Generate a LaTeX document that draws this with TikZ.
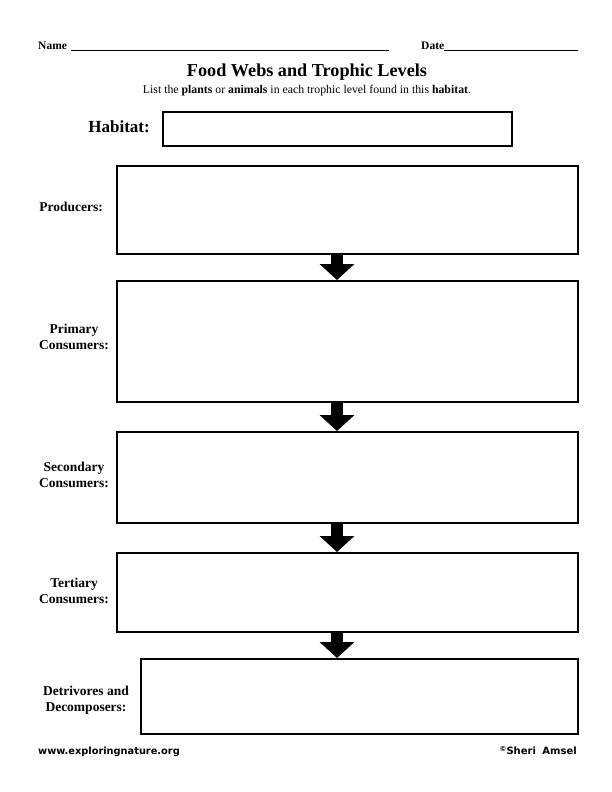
\documentclass[tikz,border=0pt]{standalone}
\usepackage{fontspec}
\setmainfont{Liberation Serif}
\newfontfamily\footfont{DejaVu Sans}
\usetikzlibrary{arrows.meta,calc}
\begin{document}
\begin{tikzpicture}[x=1pt,y=-1pt,
  box/.style={draw,line width=2pt,inner sep=0pt,anchor=north west},
  lbl/.style={font=\bfseries\fontsize{13.5}{16.5}\selectfont,align=center},
  blockarr/.style={line width=12pt,-{Triangle[width=34pt,length=16pt]}},
  fill line/.style={line width=0.9pt}]
\useasboundingbox (0,0) rectangle (612,792);
% header
\node[anchor=base west,font=\bfseries\fontsize{11.5}{13}\selectfont,inner sep=0pt] (name) at (38,49) {Name};
\coordinate (nameend) at (389,50);
\draw[fill line] (name.base east) ++(4,1) -- (nameend);
\node[anchor=base west,font=\bfseries\fontsize{11.5}{13}\selectfont,inner sep=0pt] (date) at (421,49) {Date};
\coordinate (dateend) at (578,50);
\draw[fill line] (date.base east) ++(0,1) -- (dateend);
\node[font=\bfseries\fontsize{18.2}{21}\selectfont,anchor=base,inner sep=0pt] (title) at (307,77) {Food Webs and Trophic Levels};
\node[font=\fontsize{11.8}{13}\selectfont,anchor=base,inner sep=0pt] (sub) at (307,93) {List the \textbf{plants} or \textbf{animals} in each trophic level found in this \textbf{habitat}.};
% habitat
\node[box,minimum width=349pt,minimum height=34pt] (hab) at (162,111) {};
\node[font=\bfseries\fontsize{17}{19}\selectfont,anchor=base east,inner sep=0pt] (hablbl) at (150,132) {Habitat:};
% level boxes
\node[box,minimum width=461pt,minimum height=88pt] (prod) at (116,165) {};
\node[box,minimum width=461pt,minimum height=121pt] (prim) at (116,280) {};
\node[box,minimum width=461pt,minimum height=91pt] (sec) at (116,431) {};
\node[box,minimum width=461pt,minimum height=79pt] (ter) at (116,552) {};
\node[box,minimum width=437pt,minimum height=75pt] (det) at (140,658) {};
% labels
\node[lbl,anchor=east,inner sep=0pt] (prodlbl) at (103,207) {Producers:};
\node[lbl,inner sep=0pt] (primlbl) at (74,337) {Primary\\Consumers:};
\node[lbl,inner sep=0pt] (seclbl) at (74,475) {Secondary\\Consumers:};
\node[lbl,inner sep=0pt] (terlbl) at (74,591) {Tertiary\\Consumers:};
\node[lbl,inner sep=0pt] (detlbl) at (86,700) {Detrivores and\\Decomposers:};
% arrows
\coordinate (ax) at (337,0);
\draw[blockarr] (prod.south -| ax) -- (prim.north -| ax);
\draw[blockarr] (prim.south -| ax) -- (sec.north -| ax);
\draw[blockarr] (sec.south -| ax) -- (ter.north -| ax);
\draw[blockarr] (ter.south -| ax) -- (det.north -| ax);
% footer
\node[font=\footfont\bfseries\fontsize{9.8}{11}\selectfont,anchor=base west,inner sep=0pt] (web) at (38,754) {www.exploringnature.org};
\node[font=\footfont\bfseries\fontsize{10}{11}\selectfont,anchor=base east,inner sep=0pt] (copy) at (577,754) {\raisebox{2.5pt}{\fontsize{7}{8}\selectfont ©}Sheri\hspace{3pt} Amsel};
\end{tikzpicture}
\end{document}
